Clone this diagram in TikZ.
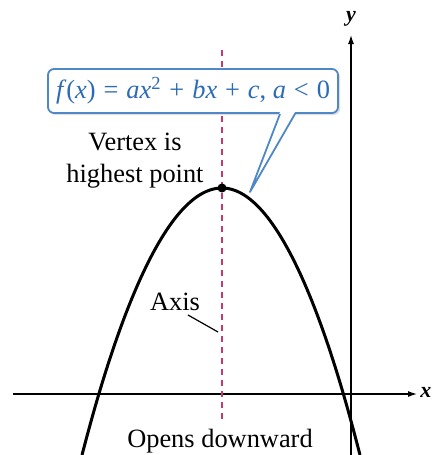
\documentclass[tikz,border=0pt]{standalone}
\usepackage{fontspec}
\setmainfont{Liberation Serif}
\usetikzlibrary{arrows.meta, shadows}
\definecolor{eqblue}   {HTML}{2C6BB5}
\definecolor{eqborder} {HTML}{4F88C6}
\definecolor{axisred}  {HTML}{C8386E}
\newcommand{\opsp}{\hspace{0.3em}}

\begin{document}
\begin{tikzpicture}[
    x=0.5pt, y=-0.5pt,
    every node/.style={font=\fontsize{13.2}{16}\selectfont, text=black, inner sep=0pt},
    axisline/.style={line width=0.6pt, -{Latex[length=4.5pt,width=3pt]}},
    curve/.style={line width=1.5pt},
    symline/.style={draw=axisred, line width=0.6pt, dash pattern=on 3pt off 2.5pt},
    eqbox/.style={
        draw=eqborder, line width=0.9pt, fill=white, rounded corners=3pt,
        minimum width=145pt, minimum height=22pt, text=eqblue,
        drop shadow={opacity=0.25, shadow xshift=1pt, shadow yshift=-1pt}
    },
    note/.style={align=center},
    dot/.style={circle, fill=black, minimum size=4.5pt}
]

\useasboundingbox (0,0) rectangle (433,455);

% ── AXES ───────────────────────────────────────────────────────
\coordinate (xstart) at (13,394);
\coordinate (xend)   at (417,394);
\coordinate (ystart) at (351,455);
\coordinate (yend)   at (351,35);
\draw[axisline] (xstart) -- (xend);
\draw[axisline] (ystart) -- (yend);
\node[font=\fontsize{11}{12}\selectfont\bfseries\itshape, anchor=west] (xlab) at (420,392) {x};
\node[font=\fontsize{11}{12}\selectfont\bfseries\itshape] (ylab) at (351,19) {y};

% ── AXIS OF SYMMETRY ───────────────────────────────────────────
\coordinate (symtop) at (222,50);
\coordinate (symbot) at (222,423);
\draw[symline] (symtop) -- (symbot);

% ── PARABOLA ───────────────────────────────────────────────────
\node[dot] (vtx) at (222,188) {};
\draw[curve] (82,455) parabola bend (vtx.center) (360,455);

% ── CALLOUT ────────────────────────────────────────────────────
\node[eqbox] (eq) at (193,91)
    {\textit{f}(\textit{x})\opsp=\opsp\textit{ax}\textsuperscript{2}\opsp+\opsp\textit{bx}\opsp+\opsp\textit{c},
     \textit{a}\opsp<\opsp0};
\coordinate (tip) at (250,192);
\coordinate (pl) at ([xshift=43.5pt]eq.south);
\coordinate (pr) at ([xshift=51pt]eq.south);
\fill[white] ([yshift=1pt]pl) -- (tip) -- ([yshift=1pt]pr) -- cycle;
\draw[eqborder, line width=0.9pt, line join=round] (pl) -- (tip) -- (pr);

% ── LABELS ─────────────────────────────────────────────────────
\node[note, anchor=base] (vtxlab) at (135,182) {Vertex is\\highest point};
\node[anchor=base] (axlab) at (175,310) {Axis};
\coordinate (axlead) at (188,315);
\coordinate (axpt)   at (218,332);
\draw[line width=0.6pt] (axlead) -- (axpt);
\node[anchor=base] (opens) at (220,447) {Opens downward};

\end{tikzpicture}
\end{document}
